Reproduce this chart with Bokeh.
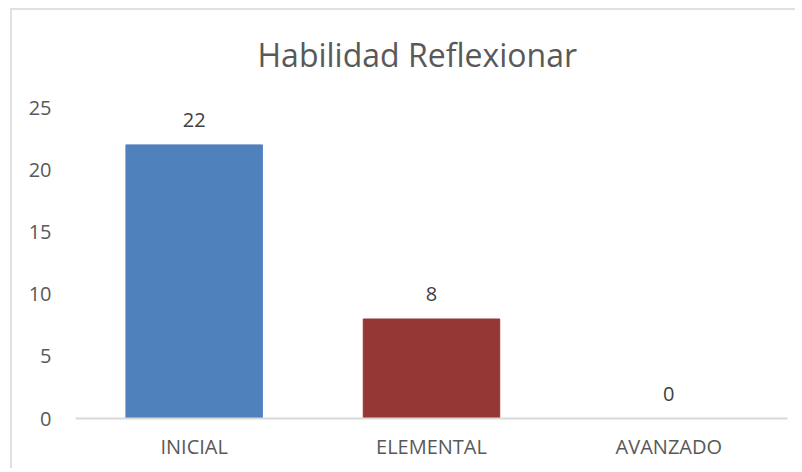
from bokeh.plotting import figure
from bokeh.models import FactorRange, Range1d, FixedTicker, ColumnDataSource
from bokeh.core.properties import value
from bokeh.embed import file_html
from bokeh.resources import INLINE

categories = ["INICIAL", "ELEMENTAL", "AVANZADO"]
counts = [22, 8, 0]
bar_colors = ["#4F81BD", "#953735", "#9BBB59"]
y_ticks = [0, 5, 10, 15, 20, 25]

FONT = "Open Sans"
src = ColumnDataSource(dict(cat=categories, val=counts, col=bar_colors,
                            lab=[str(v) for v in counts]))

p = figure(x_range=FactorRange(*categories), y_range=Range1d(0, 25.65),
           width=785, height=460, output_backend="svg", toolbar_location=None,
           min_border_left=63, min_border_right=10, min_border_bottom=52,
           min_border_top=20,
           styles={"border-top": "2px solid #e0e0e0", "border-left": "2px solid #e0e0e0",
                   "margin-left": "10px", "margin-top": "8px"})
p.outline_line_color = None
p.grid.visible = False

p.vbar(x="cat", top="val", width=0.575, color="col", source=src)
p.text(x="cat", y="val", text="lab", source=src, text_align="center",
       text_baseline="middle", y_offset=-25, text_font=value(FONT),
       text_font_size="20px", text_color="#404040")

p.title.text = "Habilidad Reflexionar"
p.title.align = "left"
p.title.offset = 182
p.title.vertical_align = "top"
p.title.text_font = FONT
p.title.text_font_size = "32px"
p.title.text_font_style = "normal"
p.title.text_color = "#595959"
p.title.standoff = 44

p.yaxis.ticker = FixedTicker(ticks=y_ticks)
p.yaxis.axis_line_color = None
p.yaxis.major_tick_line_color = None
p.yaxis.minor_tick_line_color = None
p.yaxis.major_label_standoff = 18
p.yaxis.major_label_text_font = FONT
p.yaxis.major_label_text_font_size = "20px"
p.yaxis.major_label_text_color = "#595959"

p.xaxis.axis_line_color = "#d9d9d9"
p.xaxis.axis_line_width = 2
p.xaxis.major_tick_line_color = None
p.xaxis.minor_tick_line_color = None
p.xaxis.major_label_standoff = 8
p.xaxis.major_label_text_font = FONT
p.xaxis.major_label_text_font_size = "20px"
p.xaxis.major_label_text_color = "#595959"

open("out.html", "w").write(file_html(p, INLINE))
